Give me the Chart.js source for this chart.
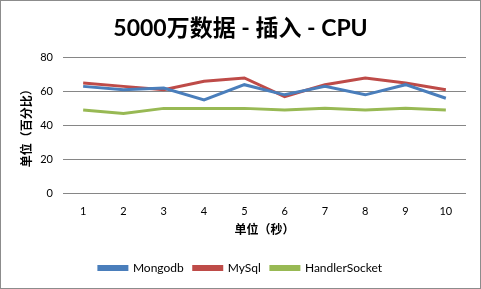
<!DOCTYPE html>
<html lang="zh">
<head>
  <meta charset="UTF-8" />
  <title>5000万数据 - 插入 - CPU</title>
  <script src="https://cdn.jsdelivr.net/npm/chart.js"></script>
  <style>
    body { margin: 0; background: #fff; }
    .frame {
      position: absolute; left: 0; top: 0;
      width: 481px; height: 289px;
      box-sizing: border-box;
      border: 1px solid #8c8c8c;
      background: #fff;
    }
    canvas { display: block; }
  </style>
</head>
<body>
  <div class="frame">
    <canvas id="cpu" width="479" height="287"></canvas>
  </div>

  <script>
// data
const seconds = ['1', '2', '3', '4', '5', '6', '7', '8', '9', '10'];
const mongodb = [63, 61, 62, 55, 64, 58, 63, 58, 64, 56];
const mysql = [65, 63, 61, 66, 68, 57, 64, 68, 65, 61];
const handlerSocket = [49, 47, 50, 50, 50, 49, 50, 49, 50, 49];
const yTicks = [0, 20, 40, 60, 80];

const FONT = "Lato, 'Noto Sans CJK SC', sans-serif";

function line(label, data, color) {
  return {
    label: label,
    data: data,
    borderColor: color,
    backgroundColor: color,
    borderWidth: 3,
    pointRadius: 0,
    tension: 0,
    fill: false
  };
}

new Chart(document.getElementById('cpu'), {
  type: 'line',
  data: {
    labels: seconds,
    datasets: [
      line('Mongodb', mongodb, '#4a7ebb'),
      line('MySql', mysql, '#be4b48'),
      line('HandlerSocket', handlerSocket, '#98b954')
    ]
  },
  options: {
    responsive: false,
    animation: false,
    // same padding both sides so title and legend centre on the canvas
    layout: { padding: { left: 14, right: 14, top: 0, bottom: 4 } },
    plugins: {
      title: {
        display: true,
        text: '5000万数据 - 插入 - CPU',
        color: '#000',
        font: { family: FONT, size: 23, weight: 'bold' },
        padding: { top: 14, bottom: 15 }
      },
      legend: {
        position: 'bottom',
        labels: {
          color: '#000',
          font: { family: FONT, size: 12 },
          boxWidth: 28,
          boxHeight: 3,
          padding: 10
        }
      },
      tooltip: { enabled: false }
    },
    scales: {
      x: {
        offset: true,
        grid: { display: false, drawTicks: false },
        border: { display: false },
        ticks: { color: '#000', padding: 12, font: { family: FONT, size: 11 } },
        title: {
          display: true,
          text: '单位（秒）',
          color: '#000',
          font: { family: FONT, size: 12, weight: 'bold' },
          padding: { top: 4, bottom: 15 }
        },
        afterFit: function (scale) { scale.height = 59; }
      },
      y: {
        min: 0,
        max: 80,
        afterBuildTicks: function (scale) {
          scale.ticks = yTicks.map(function (v) { return { value: v }; });
        },
        grid: { color: '#868686', drawTicks: false },
        border: { display: false },
        ticks: { color: '#000', padding: 10, font: { family: FONT, size: 11 } },
        title: {
          display: true,
          text: '单位（百分比）',
          color: '#000',
          font: { family: FONT, size: 12, weight: 'bold' },
          padding: { top: 5, bottom: 4 }
        },
        afterFit: function (scale) { scale.width = 48; }
      }
    }
  }
});
</script>
</body>
</html>
